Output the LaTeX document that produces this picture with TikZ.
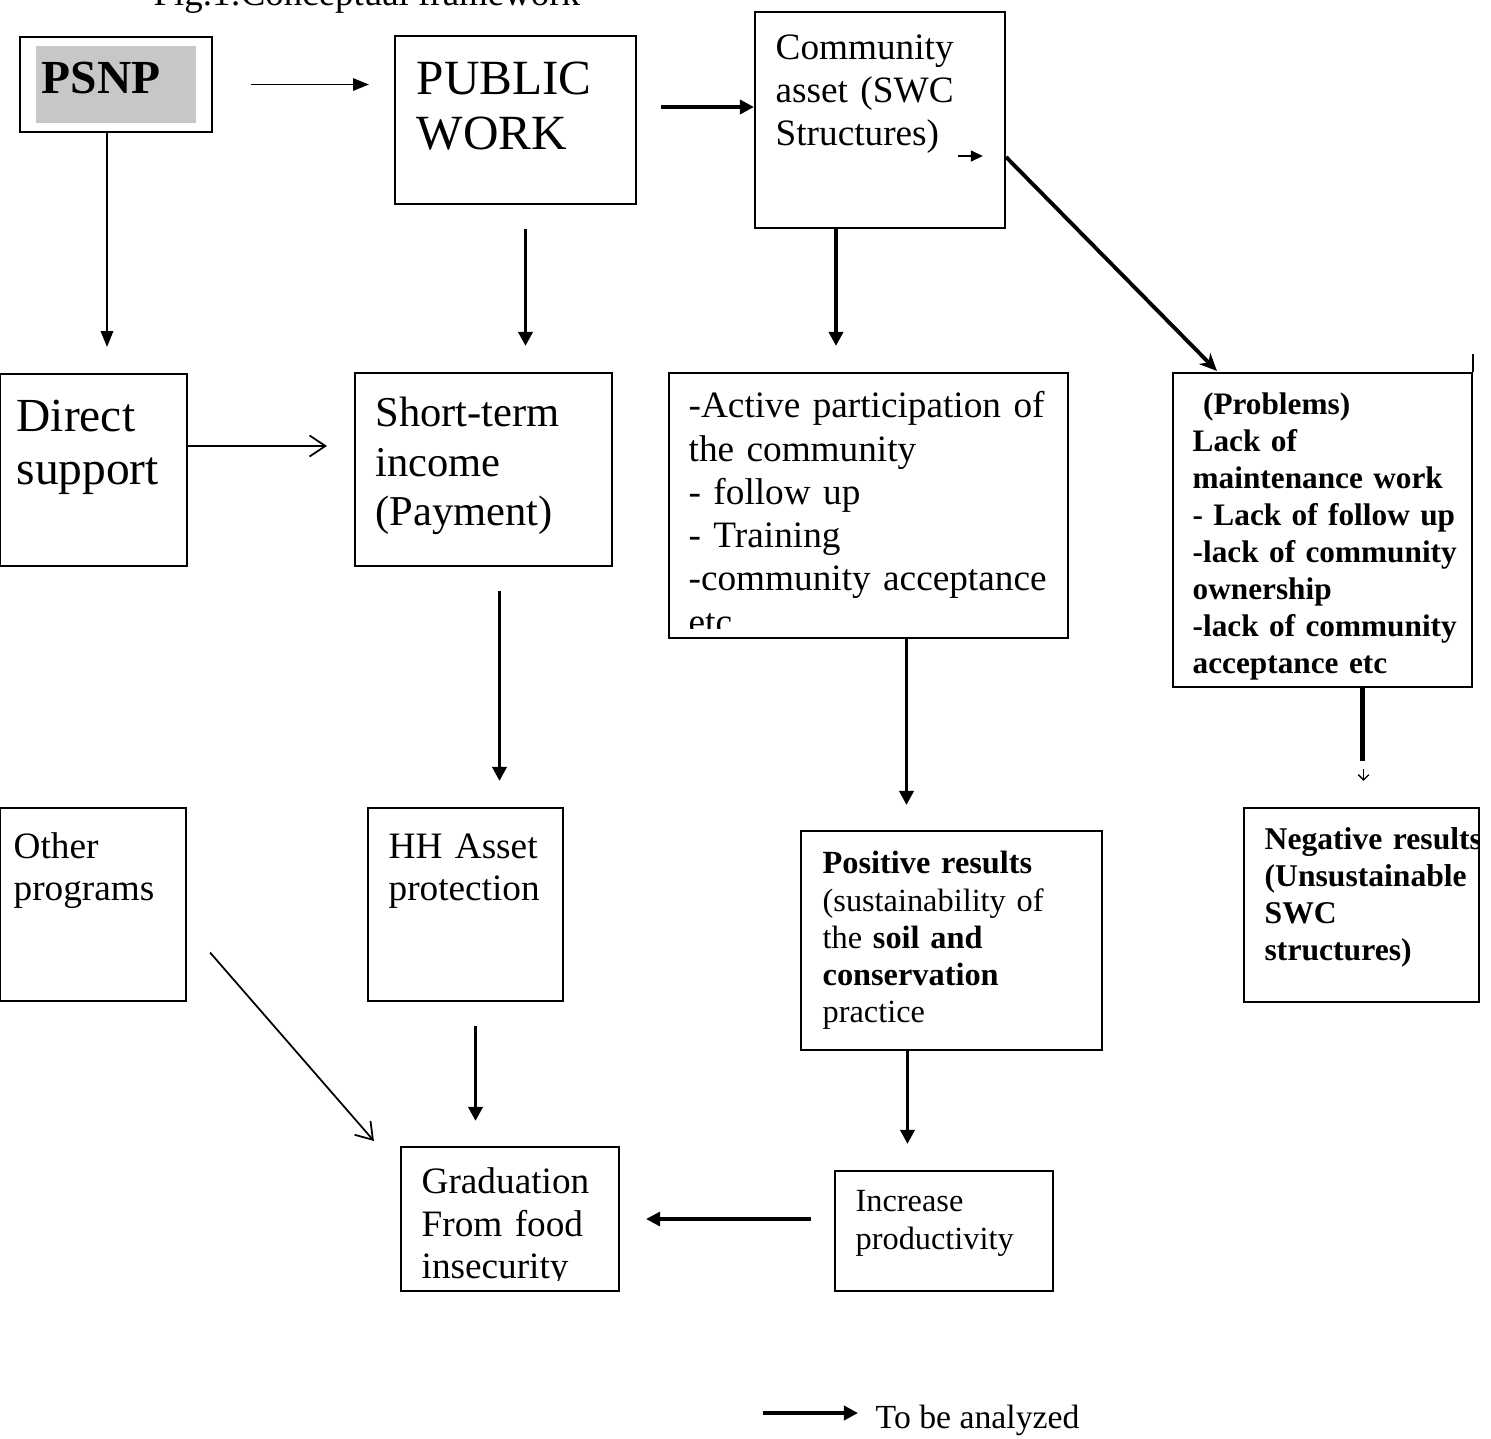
\documentclass[tikz,border=0pt]{standalone}
\usepackage{fontspec}
\setmainfont{Liberation Serif}
\usetikzlibrary{arrows.meta,calc,fit}
\newcommand{\fsz}[2]{\fontsize{#1}{#2}\selectfont}
\definecolor{psnpgray}{gray}{0.78}

\begin{document}
\begin{tikzpicture}[x=0.1mm, y=-0.1mm,
    box/.style={draw, line width=0.6pt, inner sep=0pt},
    txt/.style={anchor=base west, inner sep=0pt, text width=6cm, align=left},
    thinarr/.style={line width=0.5pt, -{Triangle[length=4.5pt,width=3.5pt]}},
    thickarr/.style={line width=1.1pt, -{Triangle[length=4pt,width=4pt]}},
    openarr/.style={line width=0.5pt, -{Straight Barb[length=4.5pt,width=6pt]}}]
  \useasboundingbox (0,0) rectangle (1491,1438);

  \node[anchor=base west, inner sep=0pt, font=\fsz{10.5}{12}] (title) at (153,5) {Fig.1:Conceptual framework};

  % boxes
  \node[box, fit={(20,37) (212,132)}] (psnp) {};
  \fill[psnpgray] ($(psnp.north west)+(17,10)$) rectangle ($(psnp.south east)+(-17,-10)$);
  \node[box, fit={(395,36) (636,204)}] (pw) {};
  \node[box, fit={(755,12) (1005,228)}] (ca) {};
  \node[box, fit={(0,374) (187,566)}] (ds) {};
  \node[box, fit={(355,373) (612,566)}] (sti) {};
  \node[box, fit={(669,373) (1068,638)}] (act) {};
  \node[box, fit={(1173,373) (1472,687)}] (pr) {};
  \node[box, fit={(0,808) (186,1001)}] (op) {};
  \node[box, fit={(368,808) (563,1001)}] (hh) {};
  \node[box, fit={(801,831) (1102,1050)}] (pos) {};
  \node[box, fit={(1244,808) (1479,1002)}] (neg) {};
  \node[box, fit={(835,1171) (1053,1291)}] (inc) {};
  \node[box, fit={(401,1147) (619,1291)}] (grad) {};
  \draw[line width=0.6pt] (pr.north east) -- ++(0,-18);

  % texts
  \node[txt, font=\fsz{13.5}{15}\bfseries] (psnp-t) at ($(psnp.north west)+(22,58)$) {PSNP};
  \node[txt, font=\fsz{14}{15.5}] (pw-t) at ($(pw.north west)+(22,60)$) {PUBLIC\\WORK};
  \node[txt, font=\fsz{10.6}{12.1}] (ca-t) at ($(ca.north west)+(21,49)$) {Community\\asset (SWC\\Structures)};
  \node[txt, font=\fsz{13.5}{15}] (ds-t) at ($(ds.north west)+(17,59)$) {Direct\\support};
  \node[txt, font=\fsz{12.1}{14}] (sti-t) at ($(sti.north west)+(21,55)$) {Short-term\\income\\(Payment)};
  \begin{scope}
    \clip (act.north west) rectangle ($(act.south east)+(0,-11)$);
    \node[txt, font=\fsz{10.6}{12.3}] (act-t) at ($(act.north west)+(20,46)$) {-Active participation of\\the community\\- follow up\\- Training\\-community acceptance\\etc};
  \end{scope}
  \node[txt, font=\fsz{8.9}{10.5}\bfseries] (pr-t) at ($(pr.north west)+(20,43)$) {~(Problems)\\Lack of\\maintenance work\\- Lack of follow up\\-lack of community\\ownership\\-lack of community\\acceptance etc};
  \node[txt, font=\fsz{10.6}{11.9}] (op-t) at ($(op.north west)+(14,52)$) {Other\\programs};
  \node[txt, font=\fsz{10.6}{11.9}] (hh-t) at ($(hh.north west)+(21,52)$) {HH Asset\\protection};
  \node[txt, font=\fsz{9.2}{10.6}] (pos-t) at ($(pos.north west)+(22,44)$) {\textbf{Positive results}\\(sustainability of\\the \textbf{soil and}\\\textbf{conservation}\\practice};
  \begin{scope}
    \clip (neg.north west) rectangle ($(neg.south east)+(-2,0)$);
    \node[txt, font=\fsz{9}{10.5}\bfseries] (neg-t) at ($(neg.north west)+(21,43)$) {Negative results\\(Unsustainable\\SWC\\structures)};
  \end{scope}
  \node[txt, font=\fsz{9.2}{10.8}] (inc-t) at ($(inc.north west)+(21,42)$) {Increase\\productivity};
  \begin{scope}
    \clip (grad.north west) rectangle ($(grad.south east)+(0,-12)$);
    \node[txt, font=\fsz{10.6}{12.05}] (grad-t) at ($(grad.north west)+(21,48)$) {Graduation\\From food\\insecurity};
  \end{scope}

  % connectors
  \draw[thinarr] ($(psnp.east)+(38,0)$) -- ($(psnp.east -| pw.west)+(-25,0)$);
  \draw[thickarr] ($(pw.east)+(24,-13)$) -- ($(pw.east -| ca.west)+(0,-13)$);
  \draw[line width=0.8pt, -{Triangle[length=3.5pt,width=3pt]}] ($(ca.east)+(-48,36)$) -- ($(ca.east)+(-23,36)$);
  \draw[line width=1.1pt, -{Stealth[length=5pt,width=4.5pt]}] ($(ca.east)+(0,37)$) -- ($(pr.north west)+(45,-1)$);
  \draw[line width=0.6pt, -{Triangle[length=4.5pt,width=3.5pt]}] ($(psnp.south)+(-9,0)$) -- ($(psnp.south |- ds.north)+(-9,-26)$);
  \draw[thickarr] ($(pw.south)+(10,24)$) -- ($(pw.south |- sti.north)+(10,-26)$);
  \draw[thickarr] ($(ca.south)+(-44,0)$) -- ($(ca.south |- act.north)+(-44,-26)$);
  \draw[openarr] ($(ds.east)+(0,-24)$) -- ($(ds.east -| sti.west)+(-27,-24)$);
  \draw[thickarr] ($(sti.south)+(16,24)$) -- ($(sti.south |- hh.north)+(16,-26)$);
  \draw[thickarr] ($(act.south)+(38,0)$) -- ($(act.south |- pos.north)+(38,-25)$);
  \draw[line width=1.2pt] ($(pr.south)+(40,0)$) -- ($(pr.south |- neg.north)+(40,-46)$);
  \draw[line width=0.4pt, -{Straight Barb[length=1.5pt,width=3pt]}] ($(pr.south |- neg.north)+(41,-38)$) -- ($(pr.south |- neg.north)+(41,-26)$);
  \draw[openarr] ($(op.east)+(23,48)$) -- ($(grad.north west)+(-26,-5)$);
  \draw[thickarr] ($(hh.south)+(10,24)$) -- ($(hh.south |- grad.north)+(10,-25)$);
  \draw[thickarr] ($(pos.south)+(-44,0)$) -- ($(pos.south |- inc.north)+(-44,-26)$);
  \draw[line width=0.9pt, -{Triangle[length=4pt,width=4pt]}] ($(inc.west)+(-23,-12)$) -- ($(grad.east)+(26,0)$);

  % legend
  \coordinate (lgs) at (763,1413);
  \node[anchor=base west, inner sep=0pt, font=\fsz{9.6}{11}] (lgd) at (875,1428) {To be analyzed};
  \draw[line width=1.3pt, -{Triangle[length=4pt,width=4pt]}] (lgs) -- ($(lgd.base west)+(-17,-15)$);
\end{tikzpicture}
\end{document}
